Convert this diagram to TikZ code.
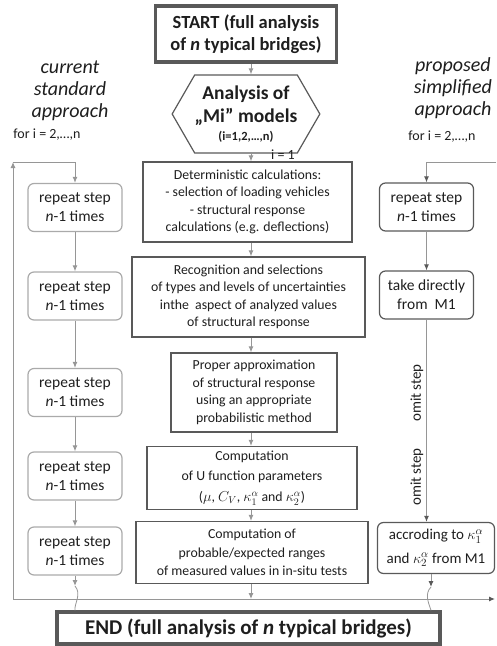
\documentclass[tikz,border=0pt]{standalone}
\usepackage{fontspec}
\setmainfont{Carlito}
\usetikzlibrary{arrows.meta,shapes.symbols}

\definecolor{boxline}{RGB}{89,89,89}
\definecolor{flowline}{RGB}{150,150,150}
\definecolor{repline}{RGB}{170,170,170}
\definecolor{txt}{RGB}{30,30,30}

\begin{document}
\begin{tikzpicture}[x=1pt,y=-1pt,
        every node/.style={text=txt, inner sep=0pt},
        mainbox/.style={draw=boxline, line width=3.5pt, align=center, font=\fontsize{18.5}{22}\selectfont\bfseries},
        calcbox/.style={draw=boxline, line width=1.2pt, align=center, font=\fontsize{13.8}{17.5}\selectfont},
        repbox/.style={draw=repline, line width=1.2pt, rounded corners=6pt, align=center, minimum width=94pt, minimum height=48pt, font=\fontsize{15.5}{19}\selectfont},
        simbox/.style={repbox, draw=boxline},
        side/.style={align=center, font=\fontsize{20}{22}\selectfont\itshape},
        small/.style={font=\fontsize{14}{16}\selectfont},
        garrow/.style={draw=flowline, line width=1pt, -{Latex[length=6pt,width=5pt]}},
        darrow/.style={draw=flowline, line width=1pt, -{Latex[length=6pt,width=5pt,color=boxline]}},
        jump/.style={draw=flowline, line width=0.8pt}]
        \useasboundingbox (0,0) rectangle (496,646);

        % middle column
        \coordinate (axis) at (251,0);
        \node[mainbox, minimum width=181pt, minimum height=56pt] (start) at (246,34) {START (full analysis\\of \textit{n} typical bridges)};
        \node[signal, signal to=west and east, signal pointer angle=120, draw=boxline, line width=1.2pt, minimum width=145pt, minimum height=78pt, align=center,
            font=\fontsize{19.5}{23}\selectfont\bfseries] (hex) at (246,114)
            {Analysis of\\„Mi” models\\[-5pt]{\fontsize{12.5}{14}\selectfont (i=1,2,…,n)}};
        \node[small] (ione) at (283,155) {i = 1};
        \node[calcbox, minimum width=209pt, minimum height=80pt] (det) at (247.5,202) {Deterministic calculations:\\- selection of loading vehicles\\- structural response\\calculations (e.g. deflections)};
        \node[calcbox, minimum width=233pt, minimum height=80pt] (rec) at (248.5,297) {Recognition and selections\\of types and levels of uncertainties\\inthe\ \ aspect of analyzed values\\of structural response};
        \node[calcbox, minimum width=166pt, minimum height=79pt] (prop) at (254,392.5) {Proper approximation\\of structural response\\using an appropriate\\probabilistic method};
        \node[calcbox, minimum width=210pt, minimum height=63pt, font=\fontsize{13.8}{20.5}\selectfont] (comp) at (252,478) {Computation\\of U function parameters\\($\mu$, $C_V$, $\kappa_1^\alpha$ and $\kappa_2^\alpha$)};
        \node[calcbox, minimum width=232pt, minimum height=62pt, font=\fontsize{13.8}{18.5}\selectfont] (prob) at (252,552.5) {Computation of\\probable/expected ranges\\of measured values in in-situ tests};
        \node[mainbox, minimum width=383pt, minimum height=32pt, font=\fontsize{21}{24}\selectfont\bfseries] (endbox) at (248.5,628) {END (full analysis of \textit{n} typical bridges)};

        \draw[garrow] (start.south -| axis) -- (hex.north -| axis);
        \draw[garrow] (hex.south -| axis) -- (det.north -| axis);
        \draw[garrow] (det.south -| axis) -- (rec.north -| axis);
        \draw[garrow] (rec.south -| axis) -- (prop.north -| axis);
        \draw[garrow] (prop.south -| axis) -- (comp.north -| axis);
        \draw[garrow] (comp.south -| axis) -- (prob.north -| axis);

        % left column
        \node[side] (cur) at (70,91) {current\\standard\\approach};
        \node[small] (forl) at (47,135) {for i = 2,…,n};
        \node[repbox] (rep1) at (75,207.5) {repeat step\\\textit{n}-1 times};
        \node[repbox] (rep2) at (75,296) {repeat step\\\textit{n}-1 times};
        \node[repbox] (rep3) at (75,392.5) {repeat step\\\textit{n}-1 times};
        \node[repbox] (rep4) at (75,476) {repeat step\\\textit{n}-1 times};
        \node[repbox] (rep5) at (75,551) {repeat step\\\textit{n}-1 times};

        \coordinate (ltop) at (13,162);
        \coordinate (lbot) at (13,599);
        \coordinate (rend) at (495,599);
        \coordinate (ljump) at (75,586);
        \draw[garrow] (lbot) -- (ltop);
        \draw[garrow] (ltop) -| (rep1.north);
        \foreach \a/\b in {rep1/rep2,rep2/rep3,rep3/rep4,rep4/rep5}
            \draw[garrow] (\a.south) -- (\b.north);
        \draw[garrow] (rep5.south) -- (ljump);
        \draw[darrow] (lbot) -- (rend);
        \draw[garrow] (prob.south -| axis) -- (axis |- lbot);
        \draw[jump] (ljump) .. controls (82,594) and (74,604) .. (ljump |- endbox.north);

        % right column
        \node[side] (prop1) at (453,88) {proposed\\simplified\\approach};
        \node[small] (forr) at (442,137) {for i = 2,…,n};
        \node[simbox] (rrep) at (426.5,207) {repeat step\\\textit{n}-1 times};
        \node[simbox] (take) at (426.5,295) {take directly\\from\ \ M1};
        \node[simbox, minimum width=117pt, minimum height=51pt, font=\fontsize{15}{23.5}\selectfont] (acc) at (436,548) {accroding to $\kappa_1^\alpha$\\and $\kappa_2^\alpha$ from M1};
        \node[rotate=90, font=\fontsize{15}{17}\selectfont] (omit1) at (417,393) {omit step};
        \node[rotate=90, font=\fontsize{15}{17}\selectfont] (omit2) at (417,477) {omit step};

        \coordinate (rtop) at (496,162);
        \coordinate (rjump) at (431,587);
        \draw[darrow] (rtop) -| (rrep.north);
        \draw[darrow] (rrep) -- (take);
        \draw[darrow] (take.south) -- (take.south |- acc.north);
        \draw[darrow] (acc.south -| rjump) -- (rjump);
        \draw[jump] (rjump) .. controls (424,594) and (429,604) .. (rjump |- endbox.north);
    \end{tikzpicture}
\end{document}
